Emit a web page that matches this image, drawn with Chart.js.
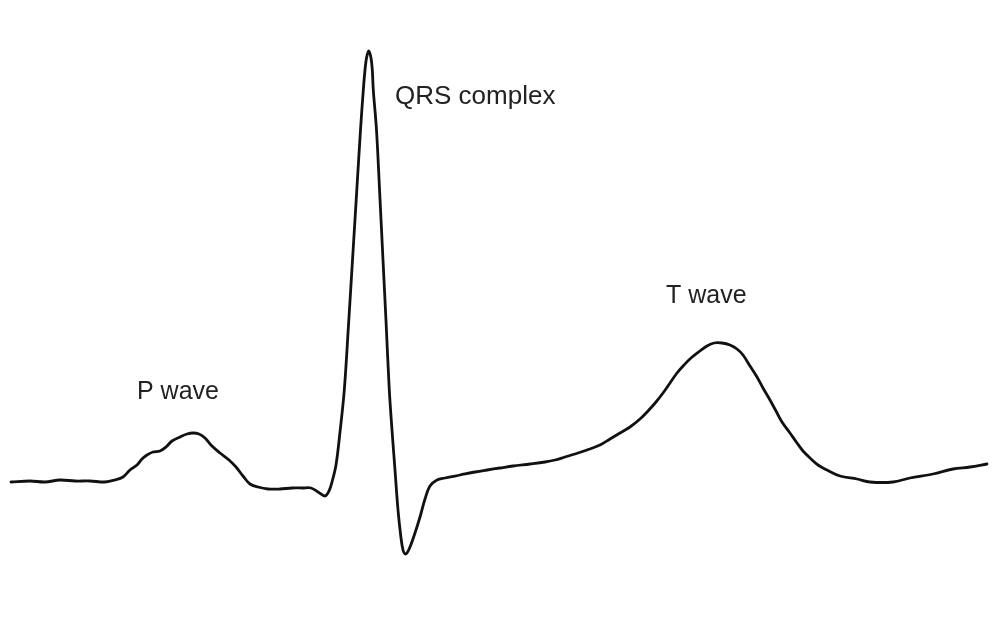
<!DOCTYPE html>
<html>
<head>
<meta charset="utf-8">
<script src="https://cdn.jsdelivr.net/npm/chart.js@4/dist/chart.umd.min.js"></script>
<style>
  html, body { margin: 0; padding: 0; background: #ffffff; }
  #wrap { width: 997px; height: 643px; position: relative; }
</style>
</head>
<body>
<div id="wrap"><canvas id="c"></canvas></div>
<script>
// Time (ms) and voltage (mV)
const timeMs = [0,19,34,49,64,79,94,104,112,119,126,131,136,142,149,155,161,169,176,182,188,194,201,209,218,225,232,239,247,257,269,281,292,300,307,314,318,321,325,329,333.3,337.5,341.5,345.5,349.5,352.3,354,355.5,357.7,360,361.3,362.3,365.5,368.8,372,375.2,378.3,381,384,387,390,392,394,396,399,404,409,414,419,426,434,449,464,476,489,502,519,534,544,554,564,576,589,599,609,619,629,637,645,652,659,666,673,680,689,696,703,711,719,726,732,739,746,752,759,765,771,779,786,792,799,807,816,829,846,859,882,899,922,942,959,976];
const voltageMv = [0.004,0.008,0.004,0.012,0.008,0.008,0.004,0.012,0.024,0.052,0.072,0.096,0.112,0.124,0.128,0.144,0.168,0.184,0.196,0.2,0.196,0.18,0.148,0.12,0.092,0.064,0.028,-0.004,-0.016,-0.024,-0.024,-0.02,-0.02,-0.02,-0.036,-0.052,-0.032,0.004,0.072,0.204,0.372,0.632,0.892,1.152,1.412,1.572,1.652,1.7,1.728,1.7,1.652,1.572,1.412,1.152,0.892,0.632,0.372,0.212,0.052,-0.108,-0.22,-0.268,-0.284,-0.28,-0.256,-0.2,-0.136,-0.064,-0.012,0.012,0.02,0.032,0.044,0.052,0.06,0.068,0.076,0.084,0.092,0.104,0.116,0.132,0.152,0.176,0.2,0.224,0.256,0.288,0.324,0.36,0.4,0.44,0.472,0.5,0.528,0.548,0.56,0.56,0.552,0.536,0.512,0.468,0.424,0.38,0.332,0.288,0.244,0.2,0.16,0.128,0.1,0.072,0.052,0.028,0.016,0.004,0.004,0.02,0.036,0.056,0.064,0.076];

// Wave labels
const labelTexts = ["P wave", "QRS complex", "T wave"];
const labelTimes = [126, 384, 655];
const labelVolts = [0.336, 1.516, 0.72];

const points = timeMs.map((t, i) => ({ x: t, y: voltageMv[i] }));

const labelPlugin = {
  id: 'waveLabels',
  afterDatasetsDraw(chart) {
    const { ctx, scales } = chart;
    ctx.save();
    ctx.fillStyle = '#222222';
    ctx.textAlign = 'left';
    ctx.textBaseline = 'alphabetic';
    labelTexts.forEach((txt, i) => {
      ctx.font = (i === 1 ? '26px' : '25px') + ' "Liberation Sans", Arial, Helvetica, sans-serif';
      ctx.fillText(txt, scales.x.getPixelForValue(labelTimes[i]), scales.y.getPixelForValue(labelVolts[i]));
    });
    ctx.restore();
  }
};

new Chart(document.getElementById('c'), {
  type: 'line',
  data: {
    datasets: [{
      data: points,
      borderColor: '#111111',
      borderWidth: 2.8,
      pointRadius: 0,
      fill: false,
      tension: 0.35,
      borderCapStyle: 'round',
      borderJoinStyle: 'round'
    }]
  },
  options: {
    responsive: true,
    maintainAspectRatio: false,
    animation: false,
    layout: { padding: 0 },
    plugins: { legend: { display: false }, tooltip: { enabled: false } },
    scales: {
      x: { type: 'linear', min: -11, max: 986, display: false },
      y: { type: 'linear', min: -0.64, max: 1.932, display: false }
    }
  },
  plugins: [labelPlugin]
});
</script>
</body>
</html>
